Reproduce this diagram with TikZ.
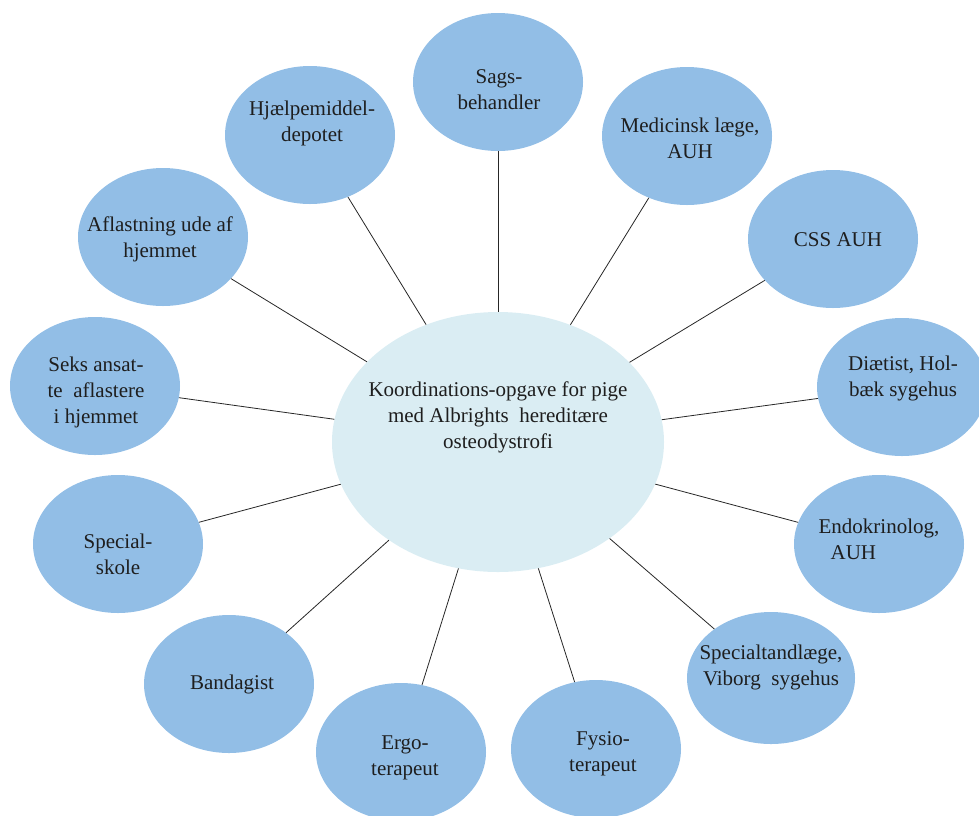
\documentclass[tikz,border=0pt]{standalone}
\usepackage{fontspec}
\setmainfont{Liberation Serif}
\usetikzlibrary{shapes.geometric}
\definecolor{outerblue}{HTML}{92BEE6}
\definecolor{innerblue}{HTML}{DAEDF3}
\definecolor{txt}{HTML}{1E1E1E}
\begin{document}
\begin{tikzpicture}[x=1pt,y=-1pt,
  outer/.style={ellipse,fill=outerblue,draw=none,inner sep=0pt,minimum width=170pt,minimum height=138pt},
  inner/.style={ellipse,fill=innerblue,draw=none,inner sep=0pt,minimum width=332pt,minimum height=260pt},
  lbl/.style={align=center,text=txt,font=\fontsize{21}{26}\selectfont,inner sep=0pt},
  conn/.style={draw=black!85,line width=0.8pt}]
\useasboundingbox (0,0) rectangle (979,815);
% ellipses
\node[inner] (c) at (498,442) {};
\node[outer] (sags) at (498,82) {};
\node[outer] (med) at (687,136) {};
\node[outer] (css) at (833,239) {};
\node[outer] (diat) at (902,387) {};
\node[outer] (endo) at (879,544) {};
\node[outer,minimum width=168pt,minimum height=132pt] (tand) at (771,678) {};
\node[outer] (fysio) at (596,749) {};
\node[outer] (ergo) at (401,752) {};
\node[outer] (band) at (229,684) {};
\node[outer] (skole) at (118,544) {};
\node[outer] (seks) at (95,386) {};
\node[outer] (afl) at (163,237) {};
\node[outer] (hjael) at (310,135) {};
% connectors
\foreach \n in {sags,med,css,diat,endo,tand,fysio,ergo,band,skole,seks,afl,hjael}
  \draw[conn] (c) -- (\n);
% labels
\node[lbl] (tc) at (498,417) {Koordinations-opgave for pige\\med Albrights\ \ hereditære\\osteodystrofi};
\node[lbl] (tsags) at (499,90) {Sags-\\behandler};
\node[lbl] (tmed) at (690,138) {Medicinsk læge,\\AUH};
\node[lbl] (tcss) at (838,240) {CSS AUH};
\node[lbl] (tdiat) at (903,378) {Diætist, Hol-\\bæk sygehus};
\node[lbl,align=left] (tendo) at (879,539) {Endokrinolog,\\\hspace*{12pt}AUH};
\node[lbl] (ttand) at (771,667) {Specialtandlæge,\\Viborg\ \ sygehus};
\node[lbl] (tfysio) at (603,754) {Fysio-\\terapeut};
\node[lbl] (tergo) at (405,758) {Ergo-\\terapeut};
\node[lbl] (tband) at (232,684) {Bandagist};
\node[lbl] (tskole) at (118,554) {Special-\\skole};
\node[lbl] (tseks) at (96,392) {Seks ansat-\\te\ \ aflastere\\i hjemmet};
\node[lbl] (tafl) at (160,239) {Aflastning ude af\\hjemmet};
\node[lbl] (thjael) at (312,123) {Hjælpemiddel-\\depotet};
\end{tikzpicture}
\end{document}
